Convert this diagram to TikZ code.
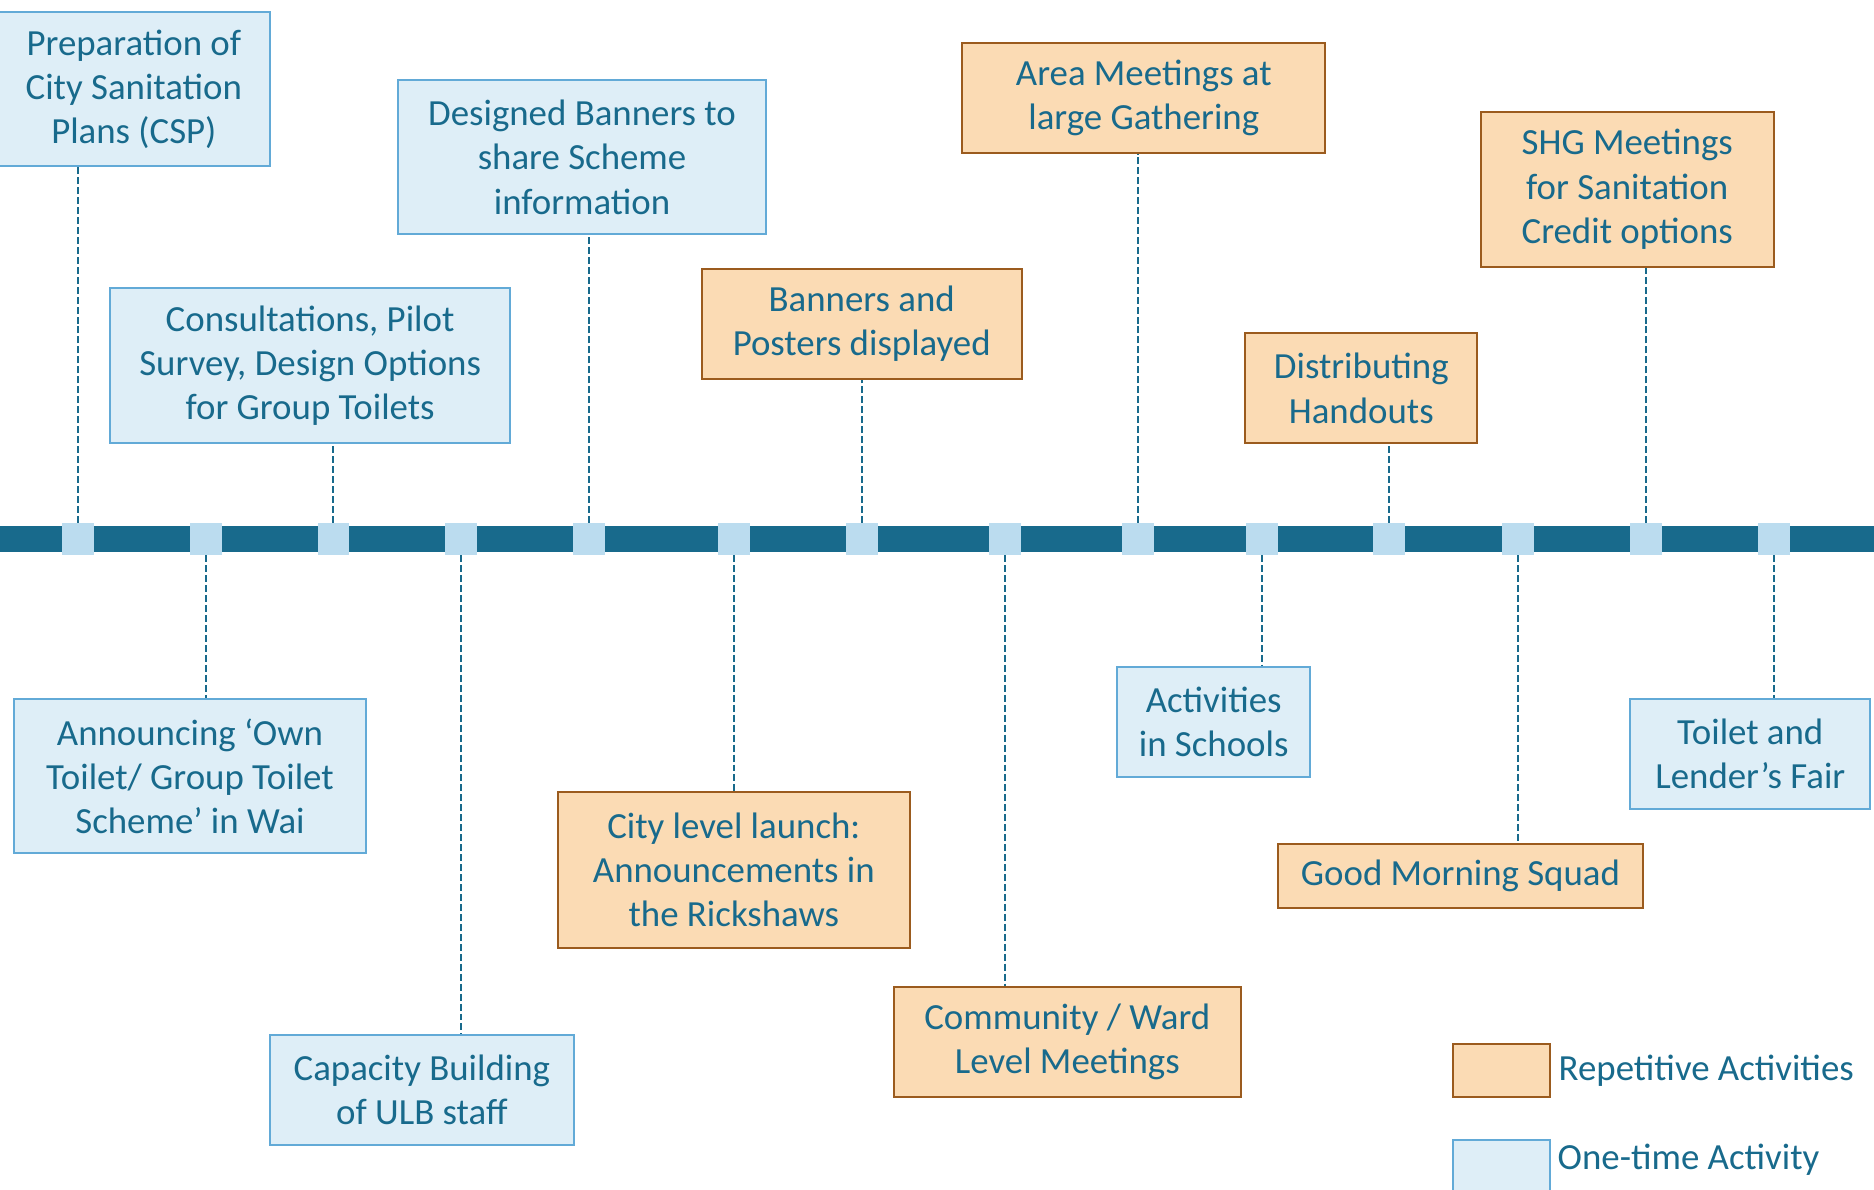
\documentclass[tikz,border=0pt]{standalone}
\usepackage{fontspec}
\setmainfont{Carlito}
\usepackage{tikz}
\usetikzlibrary{positioning}
\usepackage{xcolor}
\definecolor{barcol}{RGB}{24,106,140}
\definecolor{markcol}{RGB}{187,220,239}
\definecolor{onefill}{RGB}{222,238,247}
\definecolor{oneline}{RGB}{98,170,215}
\definecolor{repfill}{RGB}{251,219,180}
\definecolor{repline}{RGB}{155,91,30}

\tikzset{
  actbox/.style={rectangle, line width=1pt, inner sep=0pt, align=center,
    text=barcol, font=\fontsize{18.5}{22.2}\selectfont},
  onetime/.style={actbox, draw=oneline, fill=onefill},
  repeated/.style={actbox, draw=repline, fill=repfill},
  marker/.style={rectangle, fill=markcol, inner sep=0pt, minimum size=16pt},
  link/.style={draw=barcol, line width=1pt, dash pattern=on 3.5pt off 1.5pt},
  legendtext/.style={text=barcol, inner sep=0pt, anchor=west,
    font=\fontsize{18.5}{22.2}\selectfont}
}

\begin{document}
\begin{tikzpicture}[x=0.6pt, y=-0.6pt]
\useasboundingbox (0,0) rectangle (1568,995);

% Timeline bar
\fill[barcol] (0,440.5) rectangle (1568,461.5);

% Markers on the bar
\node[marker] (m1) at (65,451) {};
\node[marker] (m2) at (172,451) {};
\node[marker] (m3) at (279,451) {};
\node[marker] (m4) at (386,451) {};
\node[marker] (m5) at (493,451) {};
\node[marker] (m6) at (614,451) {};
\node[marker] (m7) at (721,451) {};
\node[marker] (m8) at (841,451) {};
\node[marker] (m9) at (952,451) {};
\node[marker] (m10) at (1056,451) {};
\node[marker] (m11) at (1162,451) {};
\node[marker] (m12) at (1270,451) {};
\node[marker] (m13) at (1377,451) {};
\node[marker] (m14) at (1484,451) {};

% Activities above the bar
\node[onetime, minimum width=136.8pt, minimum height=77.4pt] (csp) at (112,74.5)
  {Preparation of\\City Sanitation\\Plans (CSP)};
\node[onetime, minimum width=201pt, minimum height=78pt] (consult) at (259.5,306)
  {Consultations, Pilot\\Survey, Design Options\\for Group Toilets};
\node[onetime, minimum width=184.8pt, minimum height=77.4pt] (designed) at (487,131.5)
  {Designed Banners to\\share Scheme\\information};
\node[repeated, minimum width=160.8pt, minimum height=55.2pt] (posters) at (721,271)
  {Banners and\\Posters displayed};
\node[repeated, minimum width=182.4pt, minimum height=55.2pt] (area) at (957,82)
  {Area Meetings at\\large Gathering};
\node[repeated, minimum width=116.4pt, minimum height=55.2pt] (handouts) at (1139,325)
  {Distributing\\Handouts};
\node[repeated, minimum width=147pt, minimum height=77.4pt] (shg) at (1361.5,158.5)
  {SHG Meetings\\for Sanitation\\Credit options};

% Activities below the bar
\node[onetime, minimum width=176.4pt, minimum height=77.4pt] (announce) at (159,649.5)
  {Announcing ‘Own\\Toilet/ Group Toilet\\Scheme’ in Wai};
\node[onetime, minimum width=152.4pt, minimum height=55.2pt] (capacity) at (353,912)
  {Capacity Building\\of ULB staff};
\node[repeated, minimum width=176.4pt, minimum height=78pt] (launch) at (614,728)
  {City level launch:\\Announcements in\\the Rickshaws};
\node[repeated, minimum width=174pt, minimum height=55.2pt] (ward) at (893,872)
  {Community / Ward\\Level Meetings};
\node[onetime, minimum width=96.6pt, minimum height=55.2pt] (schools) at (1015.5,604)
  {Activities\\in Schools};
\node[repeated, minimum width=183.6pt, minimum height=32.4pt] (squad) at (1222,733)
  {Good Morning Squad};
\node[onetime, minimum width=120.6pt, minimum height=55.2pt] (fair) at (1464.5,631)
  {Toilet and\\Lender’s Fair};

% Dashed links to the bar
\draw[link] (m1.north) -- (m1.north |- csp.south);
\draw[link] (m2.south) -- (m2.south |- announce.north);
\draw[link] (m3.north) -- (m3.north |- consult.south);
\draw[link] (m4.south) -- (m4.south |- capacity.north);
\draw[link] (m5.north) -- (m5.north |- designed.south);
\draw[link] (m6.south) -- (m6.south |- launch.north);
\draw[link] (m7.north) -- (m7.north |- posters.south);
\draw[link] (m8.south) -- (m8.south |- ward.north);
\draw[link] (m9.north) -- (m9.north |- area.south);
\draw[link] (m10.south) -- (m10.south |- schools.north);
\draw[link] (m11.north) -- (m11.north |- handouts.south);
\draw[link] (m12.south) -- (m12.south |- squad.north);
\draw[link] (m13.north) -- (m13.north |- shg.south);
\draw[link] (m14.south) -- (m14.south |- fair.north);

% Legend
\node[repeated, minimum width=48.6pt, minimum height=26.4pt] (legrep) at (1256.5,895.5) {};
\node[legendtext, right=3.6pt of legrep] (legreptext) {Repetitive Activities};
\node[onetime, minimum width=48.6pt, minimum height=27.6pt] (legone) at (1256.5,977) {};
\node[legendtext] (legonetext) at (1303,970) {One-time Activity};
\end{tikzpicture}
\end{document}
